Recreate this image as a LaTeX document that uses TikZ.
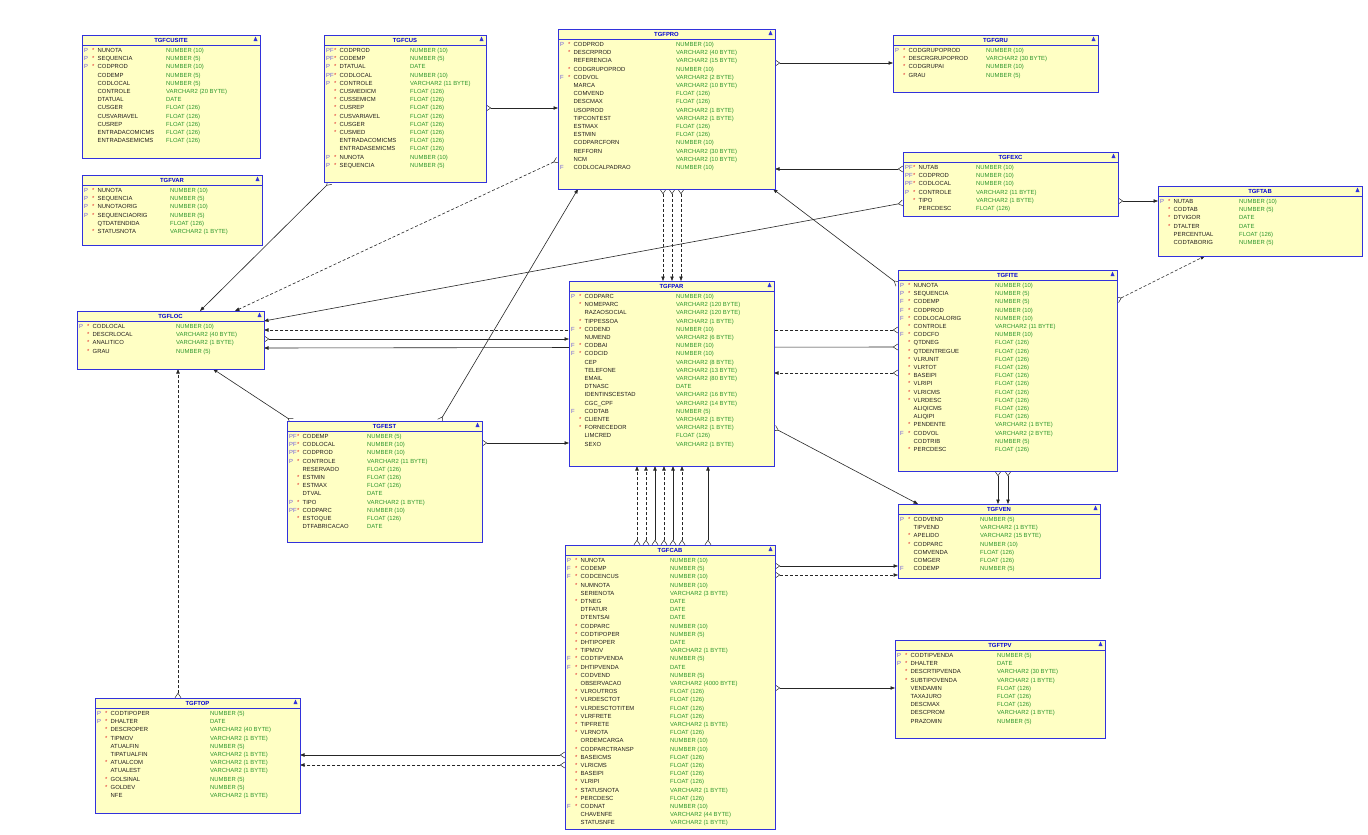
\documentclass[tikz,border=0pt]{standalone}
\usepackage{fontspec}
\setmainfont{Liberation Sans}
\usetikzlibrary{arrows.meta}
\pgfdeclarelayer{bg}
\pgfsetlayers{bg,main}
\definecolor{tfill}{RGB}{255,255,196}
\definecolor{tborder}{RGB}{50,50,220}
\definecolor{ttitlec}{RGB}{0,0,210}
\definecolor{tname}{RGB}{35,30,30}
\definecolor{ttype}{RGB}{45,150,45}
\definecolor{tkey}{RGB}{110,90,220}
\definecolor{tstar}{RGB}{225,40,40}
\tikzset{
 tbox/.style={draw=tborder, fill=tfill, line width=0.8pt, inner sep=0pt, outer sep=0pt, rectangle},
 tsep/.style={draw=tborder, line width=0.8pt},
 ertitle/.style={font=\fontsize{5.9}{6}\selectfont\bfseries, text=ttitlec, inner sep=0pt},
 ercell/.style={font=\fontsize{5.9}{6}\selectfont, inner sep=0pt, anchor=west, text height=4.3pt, text depth=1.3pt},
 kcell/.style={ercell, text=tkey},
 scell/.style={ercell, text=tstar},
 ncell/.style={ercell, text=tname},
 ycell/.style={ercell, text=ttype},
 erline/.style={line width=0.6pt, draw=black!85, {Straight Barb[reversed,length=4.5pt,width=6pt,line width=0.5pt,line cap=butt,line join=miter]}-{Triangle[length=4.5pt,width=3.4pt]}},
 erdash/.style={erline, dash pattern=on 3pt off 2pt},
}
\newcommand\ertable[8]{%
 \node[tbox, anchor=north west, minimum width=#5pt, minimum height=#6pt] (#1) at (#3,#4) {};
 \draw[tsep] (#3,#4+10) -- ++(#5,0);
 \node[ertitle] (#1-title) at (#3+#5/2,#4+5.2) {#2};
 \fill[tborder] (#3+#5-6.5,#4+6) -- (#3+#5-2.5,#4+6) -- (#3+#5-4.5,#4+1.5) -- cycle;
 \foreach \k/\s/\n/\t [count=\i from 0] in {#8}{%
   \node[kcell] (#1-k\i) at (#3+2,#4+16+8.2*\i) {\k};
   \node[scell] (#1-s\i) at (#3+10,#4+16+8.2*\i) {\s};
   \node[ncell] (#1-n\i) at (#3+15.5,#4+16+8.2*\i) {\n};
   \node[ycell] (#1-y\i) at (#3+#7,#4+16+8.2*\i) {\t};
 }%
}
\begin{document}
\begin{tikzpicture}[x=1pt,y=-1pt]
\useasboundingbox (0,0) rectangle (1368,835);
\begin{pgfonlayer}{bg}
\fill[white] (0,0) rectangle (1368,835);
\end{pgfonlayer}

\ertable{cusite}{TGFCUSITE}{82}{35}{178}{123}{84}{%
P/*/NUNOTA/NUMBER (10),
P/*/SEQUENCIA/NUMBER (5),
P/*/CODPROD/NUMBER (10),
//CODEMP/NUMBER (5),
//CODLOCAL/NUMBER (5),
//CONTROLE/VARCHAR2 (20 BYTE),
//DTATUAL/DATE,
//CUSGER/FLOAT (126),
//CUSVARIAVEL/FLOAT (126),
//CUSREP/FLOAT (126),
//ENTRADACOMICMS/FLOAT (126),
//ENTRADASEMICMS/FLOAT (126)}

\ertable{cus}{TGFCUS}{324}{35}{162}{147}{86}{%
PF/*/CODPROD/NUMBER (10),
PF/*/CODEMP/NUMBER (5),
P/*/DTATUAL/DATE,
PF/*/CODLOCAL/NUMBER (10),
P/*/CONTROLE/VARCHAR2 (11 BYTE),
/*/CUSMEDICM/FLOAT (126),
/*/CUSSEMICM/FLOAT (126),
/*/CUSREP/FLOAT (126),
/*/CUSVARIAVEL/FLOAT (126),
/*/CUSGER/FLOAT (126),
/*/CUSMED/FLOAT (126),
//ENTRADACOMICMS/FLOAT (126),
//ENTRADASEMICMS/FLOAT (126),
P/*/NUNOTA/NUMBER (10),
P/*/SEQUENCIA/NUMBER (5)}

\ertable{pro}{TGFPRO}{558}{29}{217}{160}{118}{%
P/*/CODPROD/NUMBER (10),
/*/DESCRPROD/VARCHAR2 (40 BYTE),
//REFERENCIA/VARCHAR2 (15 BYTE),
/*/CODGRUPOPROD/NUMBER (10),
F/*/CODVOL/VARCHAR2 (2 BYTE),
//MARCA/VARCHAR2 (10 BYTE),
//COMVEND/FLOAT (126),
//DESCMAX/FLOAT (126),
//USOPROD/VARCHAR2 (1 BYTE),
//TIPCONTEST/VARCHAR2 (1 BYTE),
//ESTMAX/FLOAT (126),
//ESTMIN/FLOAT (126),
//CODPARCFORN/NUMBER (10),
//REFFORN/VARCHAR2 (30 BYTE),
//NCM/VARCHAR2 (10 BYTE),
F//CODLOCALPADRAO/NUMBER (10)}

\ertable{gru}{TGFGRU}{893}{35}{205}{57}{93}{%
P/*/CODGRUPOPROD/NUMBER (10),
/*/DESCRGRUPOPROD/VARCHAR2 (30 BYTE),
/*/CODGRUPAI/NUMBER (10),
/*/GRAU/NUMBER (5)}

\ertable{var}{TGFVAR}{82}{175}{180}{70}{88}{%
P/*/NUNOTA/NUMBER (10),
P/*/SEQUENCIA/NUMBER (5),
P/*/NUNOTAORIG/NUMBER (10),
P/*/SEQUENCIAORIG/NUMBER (5),
//QTDATENDIDA/FLOAT (126),
/*/STATUSNOTA/VARCHAR2 (1 BYTE)}

\ertable{exc}{TGFEXC}{903}{152}{215}{64}{73}{%
PF/*/NUTAB/NUMBER (10),
PF/*/CODPROD/NUMBER (10),
PF/*/CODLOCAL/NUMBER (10),
P/*/CONTROLE/VARCHAR2 (11 BYTE),
/*/TIPO/VARCHAR2 (1 BYTE),
//PERCDESC/FLOAT (126)}

\ertable{tab}{TGFTAB}{1158}{186}{204}{70}{81}{%
P/*/NUTAB/NUMBER (10),
/*/CODTAB/NUMBER (5),
/*/DTVIGOR/DATE,
/*/DTALTER/DATE,
//PERCENTUAL/FLOAT (126),
//CODTABORIG/NUMBER (5)}

\ertable{loc}{TGFLOC}{77}{311}{187}{58}{99}{%
P/*/CODLOCAL/NUMBER (10),
/*/DESCRLOCAL/VARCHAR2 (40 BYTE),
/*/ANALITICO/VARCHAR2 (1 BYTE),
/*/GRAU/NUMBER (5)}

\ertable{par}{TGFPAR}{569}{281}{205}{185}{107}{%
P/*/CODPARC/NUMBER (10),
/*/NOMEPARC/VARCHAR2 (120 BYTE),
//RAZAOSOCIAL/VARCHAR2 (120 BYTE),
/*/TIPPESSOA/VARCHAR2 (1 BYTE),
F/*/CODEND/NUMBER (10),
//NUMEND/VARCHAR2 (6 BYTE),
F/*/CODBAI/NUMBER (10),
F/*/CODCID/NUMBER (10),
//CEP/VARCHAR2 (8 BYTE),
//TELEFONE/VARCHAR2 (13 BYTE),
//EMAIL/VARCHAR2 (80 BYTE),
//DTNASC/DATE,
//IDENTINSCESTAD/VARCHAR2 (16 BYTE),
//CGC\_CPF/VARCHAR2 (14 BYTE),
F//CODTAB/NUMBER (5),
/*/CLIENTE/VARCHAR2 (1 BYTE),
/*/FORNECEDOR/VARCHAR2 (1 BYTE),
//LIMCRED/FLOAT (126),
//SEXO/VARCHAR2 (1 BYTE)}

\ertable{ite}{TGFITE}{898}{270}{219}{201}{97}{%
P/*/NUNOTA/NUMBER (10),
P/*/SEQUENCIA/NUMBER (5),
F/*/CODEMP/NUMBER (5),
F/*/CODPROD/NUMBER (10),
F/*/CODLOCALORIG/NUMBER (10),
/*/CONTROLE/VARCHAR2 (11 BYTE),
F/*/CODCFO/NUMBER (10),
/*/QTDNEG/FLOAT (126),
/*/QTDENTREGUE/FLOAT (126),
/*/VLRUNIT/FLOAT (126),
/*/VLRTOT/FLOAT (126),
/*/BASEIPI/FLOAT (126),
/*/VLRIPI/FLOAT (126),
/*/VLRICMS/FLOAT (126),
/*/VLRDESC/FLOAT (126),
//ALIQICMS/FLOAT (126),
//ALIQIPI/FLOAT (126),
/*/PENDENTE/VARCHAR2 (1 BYTE),
F/*/CODVOL/VARCHAR2 (2 BYTE),
//CODTRIB/NUMBER (5),
/*/PERCDESC/FLOAT (126)}

\ertable{est}{TGFEST}{287}{421}{195}{121}{80}{%
PF/*/CODEMP/NUMBER (5),
PF/*/CODLOCAL/NUMBER (10),
PF/*/CODPROD/NUMBER (10),
P/*/CONTROLE/VARCHAR2 (11 BYTE),
//RESERVADO/FLOAT (126),
/*/ESTMIN/FLOAT (126),
/*/ESTMAX/FLOAT (126),
//DTVAL/DATE,
P/*/TIPO/VARCHAR2 (1 BYTE),
PF/*/CODPARC/NUMBER (10),
/*/ESTOQUE/FLOAT (126),
//DTFABRICACAO/DATE}

\ertable{ven}{TGFVEN}{898}{504}{202}{74}{82}{%
P/*/CODVEND/NUMBER (5),
//TIPVEND/VARCHAR2 (1 BYTE),
/*/APELIDO/VARCHAR2 (15 BYTE),
/*/CODPARC/NUMBER (10),
//COMVENDA/FLOAT (126),
//COMGER/FLOAT (126),
F//CODEMP/NUMBER (5)}

\ertable{cab}{TGFCAB}{565}{545}{210}{284}{105}{%
P/*/NUNOTA/NUMBER (10),
F/*/CODEMP/NUMBER (5),
F/*/CODCENCUS/NUMBER (10),
/*/NUMNOTA/NUMBER (10),
//SERIENOTA/VARCHAR2 (3 BYTE),
/*/DTNEG/DATE,
//DTFATUR/DATE,
//DTENTSAI/DATE,
/*/CODPARC/NUMBER (10),
/*/CODTIPOPER/NUMBER (5),
/*/DHTIPOPER/DATE,
/*/TIPMOV/VARCHAR2 (1 BYTE),
F/*/CODTIPVENDA/NUMBER (5),
F/*/DHTIPVENDA/DATE,
/*/CODVEND/NUMBER (5),
//OBSERVACAO/VARCHAR2 (4000 BYTE),
/*/VLROUTROS/FLOAT (126),
/*/VLRDESCTOT/FLOAT (126),
/*/VLRDESCTOTITEM/FLOAT (126),
/*/VLRFRETE/FLOAT (126),
/*/TIPFRETE/VARCHAR2 (1 BYTE),
/*/VLRNOTA/FLOAT (126),
//ORDEMCARGA/NUMBER (10),
/*/CODPARCTRANSP/NUMBER (10),
/*/BASEICMS/FLOAT (126),
/*/VLRICMS/FLOAT (126),
/*/BASEIPI/FLOAT (126),
/*/VLRIPI/FLOAT (126),
/*/STATUSNOTA/VARCHAR2 (1 BYTE),
/*/PERCDESC/FLOAT (126),
F/*/CODNAT/NUMBER (10),
//CHAVENFE/VARCHAR2 (44 BYTE),
//STATUSNFE/VARCHAR2 (1 BYTE)}

\ertable{tpv}{TGFTPV}{895}{640}{210}{98}{102}{%
P/*/CODTIPVENDA/NUMBER (5),
P/*/DHALTER/DATE,
/*/DESCRTIPVENDA/VARCHAR2 (30 BYTE),
/*/SUBTIPOVENDA/VARCHAR2 (1 BYTE),
//VENDAMIN/FLOAT (126),
//TAXAJURO/FLOAT (126),
//DESCMAX/FLOAT (126),
//DESCPROM/VARCHAR2 (1 BYTE),
//PRAZOMIN/NUMBER (5)}

\ertable{top}{TGFTOP}{95}{698}{205}{115}{115}{%
P/*/CODTIPOPER/NUMBER (5),
P/*/DHALTER/DATE,
/*/DESCROPER/VARCHAR2 (40 BYTE),
/*/TIPMOV/VARCHAR2 (1 BYTE),
//ATUALFIN/NUMBER (5),
//TIPATUALFIN/VARCHAR2 (1 BYTE),
/*/ATUALCOM/VARCHAR2 (1 BYTE),
//ATUALEST/VARCHAR2 (1 BYTE),
/*/GOLSINAL/NUMBER (5),
/*/GOLDEV/NUMBER (5),
//NFE/VARCHAR2 (1 BYTE)}

\begin{pgfonlayer}{bg}
\draw[erline] (pro.east |- 0,63) -- (gru.west |- 0,63);
\draw[erline] (cus.east |- 0,108) -- (pro.west |- 0,108);
\draw[erline] (exc.west |- 0,169) -- (pro.east |- 0,169);
\draw[erline] (exc.east |- 0,201) -- (tab.west |- 0,201);
\draw[erline] (exc.west |- 0,203) -- (loc.east |- 0,321);
\draw[erline] (cus.south -| 330,0) -- (loc.north -| 200,0);
\draw[erdash] (pro.west |- 0,160) -- (loc.north -| 235,0);
\foreach \xx in {663,672,681}{\draw[erdash] (pro.south -| \xx,0) -- (par.north -| \xx,0);}
\draw[erline] (est.north -| 440,0) -- (pro.south -| 578,0);
\draw[erline] (ite.west |- 0,284) -- (pro.south -| 773,0);
\draw[erline] (est.north -| 292,0) -- (loc.south -| 213,0);
\draw[erdash] (top.north -| 178,0) -- (loc.south -| 178,0);
\draw[erline] (est.east |- 0,443) -- (par.west |- 0,443);
\foreach \xx in {637,646,664,682}{\draw[erdash] (cab.north -| \xx,0) -- (par.south -| \xx,0);}
\foreach \xx in {655,673,708}{\draw[erline] (cab.north -| \xx,0) -- (par.south -| \xx,0);}
\draw[erline] (par.east |- 0,428) -- (ven.north -| 918,0);
\draw[erdash] (ite.west |- 0,330) -- (loc.east |- 0,330);
\draw[erline] (ite.west |- 0,347) -- (loc.east |- 0,348);
\draw[erdash] (ite.west |- 0,373) -- (par.east |- 0,373);
\draw[erline] (loc.east |- 0,339) -- (par.west |- 0,339);
\draw[erdash] (ite.east |- 0,300) -- (tab.south -| 1205,0);
\foreach \xx in {998,1008}{\draw[erline] (ite.south -| \xx,0) -- (ven.north -| \xx,0);}
\draw[erline] (cab.east |- 0,566) -- (ven.west |- 0,566);
\draw[erdash] (cab.east |- 0,575) -- (ven.west |- 0,575);
\draw[erline] (cab.east |- 0,688) -- (tpv.west |- 0,688);
\draw[erline] (cab.west |- 0,755) -- (top.east |- 0,755);
\draw[erdash] (cab.west |- 0,765) -- (top.east |- 0,765);
\end{pgfonlayer}
\end{tikzpicture}
\end{document}
